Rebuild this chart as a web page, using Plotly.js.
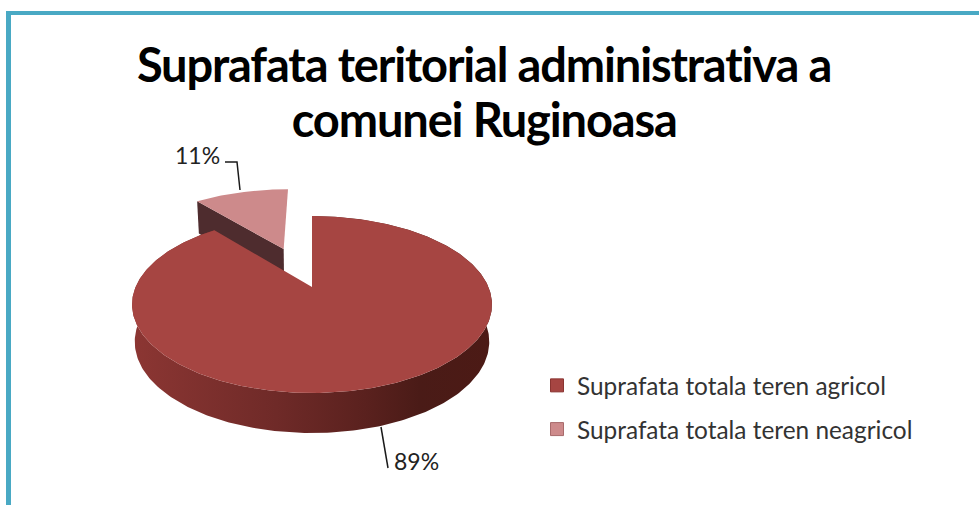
<!DOCTYPE html>
<html>
<head>
<meta charset="utf-8">
<script src="https://cdn.plot.ly/plotly-3.0.1.min.js"></script>
<style>
html,body{margin:0;padding:0;background:#fff}
#chart{width:979px;height:505px}
.gtitle,.annotation[data-index="2"] text{letter-spacing:-1.15px}
</style>
</head>
<body>
<div id="chart"></div>
<script>
// ---- data ----
var categories = ['Suprafata totala teren agricol', 'Suprafata totala teren neagricol'];
var shares = [89, 11];
var titleLines = ['Suprafata teritorial administrativa a', 'comunei Ruginoasa'];

// ---- colours ----
var topColors = ['#a64542', '#cd8a8b'];
var legendEdge = ['#8a3431', '#a86a6b'];
var cutWallColor = '#4e2c2e';
var frameColor = '#49a9c4';
var wallStops = [[0, '#8c3633'], [0.4, '#6f2a28'], [0.65, '#5a211e'], [0.8, '#4a1b17'], [1, '#4c1a15']];

// ---- 3D projection of the pie disc onto the page (axes run in page units) ----
var apexX = 312, apexY = 287, scaleX = 176.4, scaleY = 85, persp = 0.198;
var pullDist = 0.52;

function project(u, v) {
  var d = 1 + persp * v;
  return [apexX + scaleX * u / d, apexY - scaleY * v / d];
}
function lowered(u, v) { // same disc point on the underside of the pie
  var p = project(u, v);
  var depth = 36.5 - 3.5 * v;
  return [apexX + (p[0] - apexX) * 0.985, p[1] + depth];
}
function rimAngles(from, to) {
  var a = [];
  for (var t = from; t < to; t += 1) a.push(t);
  a.push(to);
  return a;
}
function disc(t, off) {
  var r = t * Math.PI / 180;
  return [Math.sin(r) + off[0], Math.cos(r) + off[1]];
}
function polyTrace(pts, extra) {
  var tr = {
    type: 'scatter', mode: 'lines', fill: 'toself',
    x: pts.map(function (p) { return p[0]; }),
    y: pts.map(function (p) { return p[1]; }),
    line: { width: 0 }, showlegend: false, hoverinfo: 'skip'
  };
  for (var k in extra) tr[k] = extra[k];
  return tr;
}

var total = shares[0] + shares[1];
var splitAngle = 360 * shares[0] / total;
var midSmall = (splitAngle + 360) / 2 * Math.PI / 180;
var pull = [Math.sin(midSmall) * pullDist, Math.cos(midSmall) * pullDist];
var none = [0, 0];

function facePoints(from, to, off) {
  var pts = [project(off[0], off[1])];
  rimAngles(from, to).forEach(function (t) {
    var d = disc(t, off);
    pts.push(project(d[0], d[1]));
  });
  pts.push(pts[0]);
  return pts;
}

// small slice: cut wall + top
var smallEdge = disc(splitAngle, pull);
var smallWall = [
  project(pull[0], pull[1]), project(smallEdge[0], smallEdge[1]),
  lowered(smallEdge[0], smallEdge[1]), lowered(pull[0], pull[1]), project(pull[0], pull[1])
];
// big slice: outer wall (front is what stays visible) + top
var rim = rimAngles(0, splitAngle).map(function (t) { return disc(t, none); });
var mainWall = rim.map(function (d) { return project(d[0], d[1]); })
  .concat(rim.slice().reverse().map(function (d) { return lowered(d[0], d[1]); }));
mainWall.push(mainWall[0]);

var traces = [
  polyTrace(smallWall, { fillcolor: cutWallColor }),
  polyTrace(facePoints(splitAngle, 360, pull), { fillcolor: topColors[1], name: categories[1] }),
  polyTrace(mainWall, { fillgradient: { type: 'horizontal', colorscale: wallStops } }),
  polyTrace(facePoints(0, splitAngle, none), { fillcolor: topColors[0], name: categories[0] }),
  // leader lines
  { type: 'scatter', mode: 'lines', x: [225, 237, 240], y: [162, 162, 190], line: { color: '#1a1a1a', width: 1.5 }, showlegend: false, hoverinfo: 'skip' },
  { type: 'scatter', mode: 'lines', x: [381, 388], y: [427, 468], line: { color: '#1a1a1a', width: 1.5 }, showlegend: false, hoverinfo: 'skip' }
];
// legend entries
categories.forEach(function (c, i) {
  traces.push({
    type: 'scatter', mode: 'markers', x: [null], y: [null], name: c, legendgroup: 'g' + i,
    marker: { symbol: 'square', size: 13, color: topColors[i], line: { color: legendEdge[i], width: 1 } },
    hoverinfo: 'skip'
  });
});

var labelFont = { family: 'Lato, sans-serif', size: 23, color: '#222' };
var titleFont = { family: 'Lato, sans-serif', size: 47, color: '#000', weight: 700 };
var layout = {
  width: 979, height: 505,
  margin: { l: 0, r: 0, t: 0, b: 0 },
  paper_bgcolor: '#fff', plot_bgcolor: '#fff',
  xaxis: { range: [0, 979], visible: false, fixedrange: true },
  yaxis: { range: [505, 0], visible: false, fixedrange: true },
  title: {
    text: titleLines[0],
    font: titleFont,
    x: 484 / 979, xanchor: 'center', y: 1 - 49 / 505, yanchor: 'top', yref: 'container'
  },
  legend: {
    x: 537 / 979, y: 1 - 363 / 505, xanchor: 'left', yanchor: 'top',
    font: { family: 'Lato, sans-serif', size: 24.4, color: '#333' },
    tracegroupgap: 9, itemwidth: 30, bgcolor: 'rgba(0,0,0,0)'
  },
  shapes: [
    { type: 'rect', xref: 'x', yref: 'y', x0: 6, x1: 11, y0: 11, y1: 505, fillcolor: frameColor, line: { width: 0 } },
    { type: 'rect', xref: 'x', yref: 'y', x0: 6, x1: 979, y0: 11, y1: 15, fillcolor: frameColor, line: { width: 0 } }
  ],
  annotations: [
    { x: 197, y: 155, xref: 'x', yref: 'y', text: shares[1] + '%', showarrow: false, font: labelFont },
    { x: 416, y: 461, xref: 'x', yref: 'y', text: shares[0] + '%', showarrow: false, font: labelFont },
    { x: 484, y: 119, xref: 'x', yref: 'y', text: titleLines[1], showarrow: false, font: titleFont }
  ]
};
Plotly.newPlot('chart', traces, layout, { displayModeBar: false, staticPlot: true });
</script>
</body>
</html>
